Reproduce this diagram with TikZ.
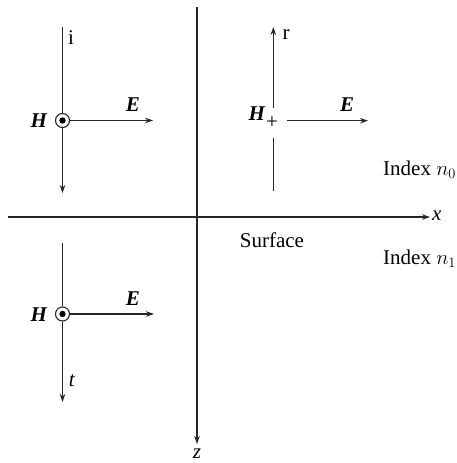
\documentclass[tikz,border=0pt]{standalone}
\usepackage{fontspec}
\setmainfont{Liberation Serif}
\usetikzlibrary{arrows.meta}
\begin{document}
\begin{tikzpicture}[x=1pt,y=-1pt,
  ln/.style={line width=1.1pt,draw=black!85},
  arr/.style={ln,-{Stealth[length=8pt,width=5.5pt]}},
  lbl/.style={inner sep=0pt,font=\fontsize{21}{23}\selectfont},
  hdot/.style={circle,draw=black!85,line width=1.1pt,minimum size=14pt,inner sep=0pt,fill=white,
     path picture={\fill[black] (path picture bounding box.center) circle (3.2pt);}}]
\useasboundingbox (0,0) rectangle (456,463);
% axes
\coordinate (zt) at (197,7);
\coordinate (zb) at (197,444);
\coordinate (xl) at (8,217);
\coordinate (xr) at (430,217);
\draw[arr] (zt) -- (zb);
\draw[arr] (xl) -- (xr);
\node[lbl,anchor=west] (xlab) at (432,216) {\textit{x}};
\node[lbl] (zlab) at (197,453.5) {\textit{z}};
% incident
\node[hdot] (c1) at (62.5,120.5) {};
\coordinate (i1) at (62.5,27);
\coordinate (i2) at (62.5,193);
\coordinate (e1) at (153,120.5);
\draw[ln] (i1) -- (c1);
\draw[arr] (c1) -- (i2);
\draw[arr] (c1) -- (e1);
\node[lbl] (il) at (71,38) {i};
\node[lbl] (h1) at (39,121) {\textbf{\textit{H}}};
\node[lbl] (E1) at (133,105) {\textbf{\textit{E}}};
% reflected
\coordinate (r1) at (273.3,108);
\coordinate (r2) at (273.3,27);
\coordinate (r3) at (273.3,138);
\coordinate (r4) at (273.3,191);
\coordinate (re1) at (287,120.7);
\coordinate (re2) at (368,120.7);
\draw[arr] (r1) -- (r2);
\draw[ln] (r3) -- (r4);
\draw[arr] (re1) -- (re2);
\node[lbl] (rl) at (286,35) {r};
\node[lbl] (h2) at (257,114) {\textbf{\textit{H}}};
\node[lbl] (plus) at (272,123) {+};
\node[lbl] (E2) at (347,105) {\textbf{\textit{E}}};
% transmitted
\node[hdot] (c3) at (62.5,314) {};
\coordinate (t1) at (62.5,243);
\coordinate (t2) at (62.5,402);
\coordinate (e3) at (154,314);
\draw[ln] (t1) -- (c3);
\draw[arr] (c3) -- (t2);
\draw[arr] (c3) -- (e3);
\node[lbl] (tl) at (72,381) {\textit{t}};
\node[lbl] (h3) at (39,315) {\textbf{\textit{H}}};
\node[lbl] (E3) at (133,299) {\textbf{\textit{E}}};
% texts
\node[lbl] (surf) at (272,240) {Surface};
\node[lbl,anchor=west] (n0) at (383,170) {Index $n_0$};
\node[lbl,anchor=west] (n1) at (383,259) {Index $n_1$};
\end{tikzpicture}
\end{document}
